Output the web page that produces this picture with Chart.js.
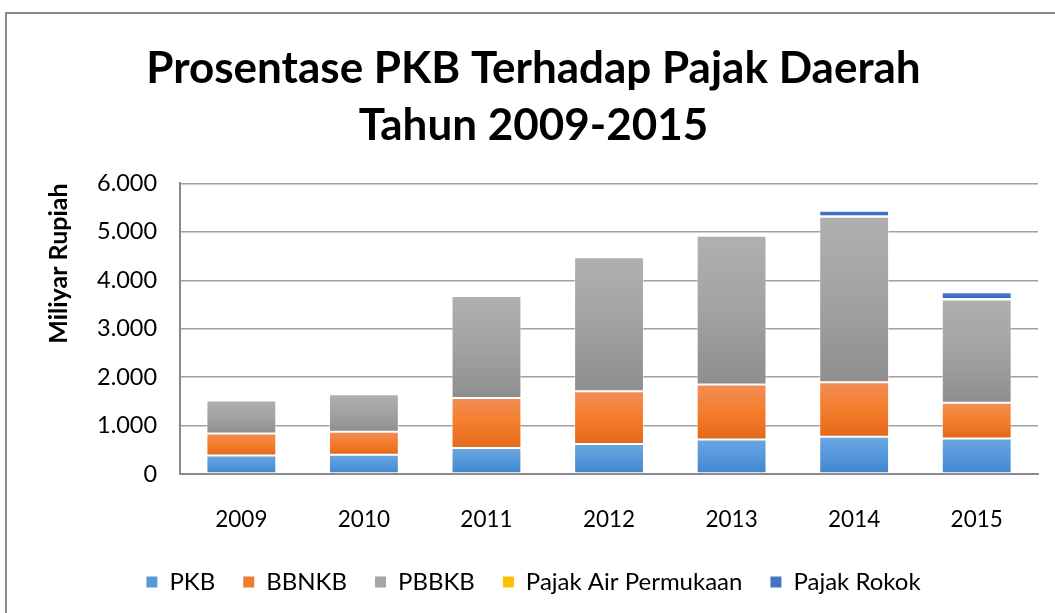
<!DOCTYPE html>
<html>
<head>
<meta charset="utf-8">
<script src="https://cdn.jsdelivr.net/npm/chart.js@4.4.1/dist/chart.umd.min.js"></script>
<style>
  html, body { margin: 0; padding: 0; background: #fff; overflow: hidden; }
  #wrap { position: absolute; left: 0; top: 0; width: 1055px; height: 613px; }
  #frame { position: absolute; left: 5px; top: 12px; width: 1200px; height: 800px;
           border-left: 2px solid #8c8c8c; border-top: 2px solid #8c8c8c; pointer-events: none; }
</style>
</head>
<body>
<div id="wrap"><canvas id="grafica"></canvas></div>
<div id="frame"></div>
<script>
// datos (miliar rupiah)
const tahun = ['2009', '2010', '2011', '2012', '2013', '2014', '2015']
const pkb = [383, 397, 537, 621, 711, 767, 732]
const bbnkb = [453, 475, 1031, 1087, 1135, 1129, 738]
const pbbkb = [684, 773, 2105, 2766, 3074, 3414, 2133]
const air_permukaan = [10, 10, 12, 12, 12, 12, 12]
const pajak_rokok = [0, 0, 0, 0, 0, 112, 139]

const y_ticks_max = 6000
const y_ticks_step = 1000

// gradiente vertical por segmento (de arriba hacia abajo)
function gradiente(paradas) {
    return function (context) {
        const chart = context.chart
        const y = chart.scales.y
        const ultimo = paradas[paradas.length - 1]
        if (!y || context.type !== 'data') return ultimo
        const i = context.dataIndex
        const d = context.datasetIndex
        let inicio = 0
        for (let k = 0; k < d; k++) inicio += chart.data.datasets[k].data[i]
        const fin = inicio + chart.data.datasets[d].data[i]
        const arriba = y.getPixelForValue(fin)
        const abajo = y.getPixelForValue(inicio)
        if (!isFinite(arriba) || !isFinite(abajo) || arriba === abajo) return ultimo
        const g = chart.ctx.createLinearGradient(0, arriba, 0, abajo)
        paradas.forEach((c, n) => g.addColorStop(n / (paradas.length - 1), c))
        return g
    }
}

const colores = [
    { paradas: ['#6aa7e1', '#5597da', '#3f86cc'], solido: '#5b9bd5' },
    { paradas: ['#f28d57', '#f47d2b', '#e2691a'], solido: '#ed7d31' },
    { paradas: ['#b0b0b0', '#a2a2a2', '#8e8e8e'], solido: '#a5a5a5' },
    { paradas: ['#ffd34d', '#ffc000', '#f0b400'], solido: '#ffc000' },
    { paradas: ['#4f7fd8', '#4070cc', '#3262bf'], solido: '#4472c4' },
]

function serie(nombre, valores, c) {
    return {
        label: nombre,
        data: valores,
        backgroundColor: gradiente(c.paradas),
        borderColor: 'rgba(255,255,255,0.5)',
        borderWidth: 1,
        borderSkipped: false,
        barPercentage: 0.57,
        categoryPercentage: 1.0,
        solido: c.solido,
    }
}

const ctx = document.getElementById('grafica').getContext('2d')

new Chart(ctx, {
    type: 'bar',
    data: {
        labels: tahun,
        datasets: [
            serie('PKB', pkb, colores[0]),
            serie('BBNKB', bbnkb, colores[1]),
            serie('PBBKB', pbbkb, colores[2]),
            serie('Pajak Air Permukaan', air_permukaan, colores[3]),
            serie('Pajak Rokok', pajak_rokok, colores[4]),
        ]
    },
    options: {
        responsive: true,
        maintainAspectRatio: false,
        animation: false,
        layout: {
            padding: { top: 30, right: 17, bottom: 9, left: 29 }
        },
        scales: {
            x: {
                stacked: true,
                grid: { display: false, drawTicks: false },
                border: { display: true, color: '#8a8a8a', width: 2 },
                ticks: {
                    color: '#000',
                    padding: 32,
                    font: { family: 'Lato', size: 22.5 }
                },
                // las etiquetas invaden un poco el hueco de la leyenda
                afterFit: function (scale) {
                    scale.height -= 23
                }
            },
            y: {
                stacked: true,
                min: 0,
                max: y_ticks_max,
                ticks: {
                    stepSize: y_ticks_step,
                    color: '#000',
                    padding: 23,
                    font: { family: 'Lato', size: 23.5 },
                    callback: function (value) {
                        return value.toLocaleString('de-DE')
                    }
                },
                grid: { color: '#a0a0a0', lineWidth: 1.5, drawTicks: false },
                border: { display: true, color: '#8a8a8a', width: 2 },
                title: {
                    display: true,
                    text: 'Miliyar Rupiah',
                    align: 'end',
                    color: '#000',
                    padding: { top: 15, bottom: 0 },
                    font: { family: 'Lato', size: 25, weight: 'bold' }
                }
            }
        },
        plugins: {
            legend: {
                position: 'bottom',
                labels: {
                    color: '#000',
                    boxWidth: 11,
                    boxHeight: 11,
                    padding: 28,
                    font: { family: 'Lato', size: 24 },
                    generateLabels: function (chart) {
                        const items = Chart.defaults.plugins.legend.labels.generateLabels(chart)
                        items.forEach(it => {
                            it.fillStyle = chart.data.datasets[it.datasetIndex].solido
                            it.strokeStyle = chart.data.datasets[it.datasetIndex].solido
                            it.lineWidth = 0
                        })
                        return items
                    }
                }
            },
            tooltip: { enabled: false },
            title: {
                display: true,
                text: ['Prosentase PKB Terhadap Pajak Daerah', 'Tahun 2009-2015'],
                color: '#000',
                font: { family: 'Lato', size: 44, weight: 'bold', lineHeight: 1.3 },
                padding: { top: 10, bottom: 29 }
            }
        }
    }
});
</script>
</body>
</html>
